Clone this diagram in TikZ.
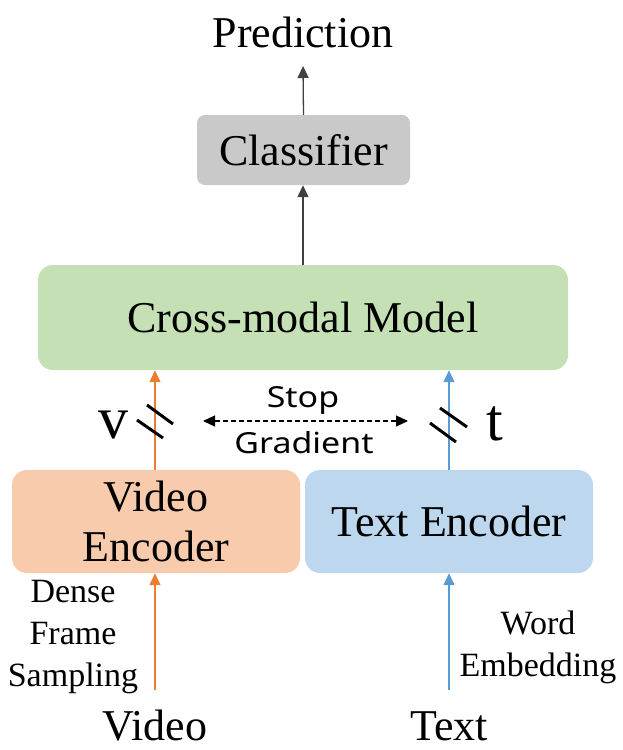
\documentclass[tikz,border=0pt]{standalone}
\usepackage{fontspec}
\setmainfont{Liberation Serif}
\newfontfamily\labelsans{Noto Sans}
\usetikzlibrary{arrows.meta}
\definecolor{boxgray}{HTML}{C9C9C9}
\definecolor{boxgreen}{HTML}{C5E0B4}
\definecolor{boxorange}{HTML}{F8CBAD}
\definecolor{boxblue}{HTML}{BDD7EE}
\definecolor{lineorange}{HTML}{ED7D31}
\definecolor{lineblue}{HTML}{5B9BD5}
\definecolor{linedark}{HTML}{404040}
\tikzset{
  big/.style={font=\fontsize{44}{50}\selectfont},
  small/.style={font=\fontsize{34}{42}\selectfont},
  block/.style={draw=none, rounded corners=15pt, inner sep=0pt, align=center, big},
  tip/.style={-{Triangle[width=11pt,length=12pt]}},
  darkarrow/.style={tip, draw=linedark, line width=1.3pt},
  orangearrow/.style={tip, draw=lineorange, fill=lineorange, line width=1.3pt},
  bluearrow/.style={tip, draw=lineblue, fill=lineblue, line width=1.3pt},
  slash/.style={line width=3pt, black},
}
\begin{document}
\begin{tikzpicture}[x=1pt, y=-1pt]
\useasboundingbox (0,0) rectangle (623,750);

% boxes
\node[block, fill=boxgray, rounded corners=8pt, minimum width=213pt, minimum height=70pt] (cls) at (303.5,150) {Classifier};
\node[block, fill=boxgreen, minimum width=530pt, minimum height=105pt] (cross) at (303,317.5) {Cross-modal Model};
\node[block, fill=boxorange, minimum width=288pt, minimum height=103pt] (venc) at (156,521.5) {Video\\Encoder};
\node[block, fill=boxblue, minimum width=288pt, minimum height=103pt] (tenc) at (449,521.5) {Text Encoder};

% labels
\node[big, anchor=base, inner sep=0pt] (pred) at (303,47) {Prediction};
\node[big, anchor=base, inner sep=0pt] (vin) at (155,740) {Video};
\node[big, anchor=base, inner sep=0pt] (tin) at (449,740) {Text};
\node[small, align=center, inner sep=0pt] (dfs) at (73,637) {Dense\\Frame\\Sampling};
\node[small, align=center, inner sep=0pt] (we) at (538,647) {Word\\Embedding};
\node[font=\fontsize{60}{60}\selectfont, anchor=base, inner sep=0pt] (vsym) at (113,438) {v};
\node[font=\fontsize{60}{60}\selectfont, anchor=base, inner sep=0pt] (tsym) at (495,440) {t};
\node[font=\labelsans\fontsize{29}{29}\selectfont, anchor=base, inner sep=0pt] (stop) at (303,407) {\scalebox{1.17}[1]{Stop}};
\node[font=\labelsans\fontsize{29}{29}\selectfont, anchor=base, inner sep=0pt] (grad) at (304,453) {\scalebox{1.17}[1]{Gradient}};

% free ends
\coordinate (predin) at (303,66);
\coordinate (vstart) at (155,690);
\coordinate (tstart) at (449,690);
\coordinate (sgl) at (203,421);
\coordinate (sgr) at (408,421);

% connectors
\draw[darkarrow] (cross.north) -- (cross.north |- cls.south);
\draw[darkarrow] (cls.north) -- (predin);
\draw[orangearrow] (vstart) -- (vstart |- venc.south);
\draw[orangearrow] (vstart |- venc.north) -- (vstart |- cross.south);
\draw[bluearrow] (tstart) -- (tstart |- tenc.south);
\draw[bluearrow] (tstart |- tenc.north) -- (tstart |- cross.south);
\draw[black, line width=1.2pt, dash pattern=on 5pt off 3pt,
      {Triangle[width=11pt,length=12pt]}-{Triangle[width=11pt,length=12pt]}] (sgl) -- (sgr);

% cut marks on the feature arrows
\draw[slash] (137,420) -- (163,438);
\draw[slash] (147,405) -- (173,424);
\draw[slash] (430,423) -- (456,442);
\draw[slash] (440,408) -- (467,427);
\end{tikzpicture}
\end{document}
